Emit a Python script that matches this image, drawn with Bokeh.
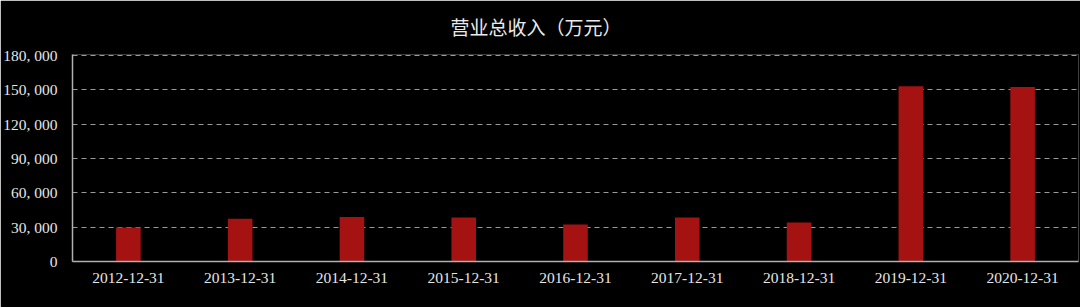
from bokeh.plotting import figure
from bokeh.models import FixedTicker, Title
from bokeh.embed import file_html
from bokeh.resources import INLINE

categories = ["2012-12-31", "2013-12-31", "2014-12-31", "2015-12-31", "2016-12-31",
              "2017-12-31", "2018-12-31", "2019-12-31", "2020-12-31"]
revenue = [29800, 37300, 39000, 38500, 32300, 38500, 34000, 153200, 152600]
y_ticks = [0, 30000, 60000, 90000, 120000, 150000, 180000]
y_tick_labels = ["0", "30, 000", "60, 000", "90, 000", "120, 000", "150, 000", "180, 000"]
title_text = "营业总收入（万元）"

p = figure(x_range=categories, y_range=(0, 181000), width=1080, height=307,
           output_backend="svg", toolbar_location=None,
           min_border_left=70, min_border_right=2, min_border_top=54, min_border_bottom=46,
           background_fill_color="black", border_fill_color="black", outline_line_color=None)
p.x_range.range_padding = 0

p.vbar(x=categories, top=revenue, width=0.22, fill_color="#a51212", line_color=None)

t = Title(text=title_text, text_font="Noto Sans CJK SC", text_font_size="19px",
          text_color="#ebebeb", text_font_style="normal", align="left", offset=378,
          standoff=25, vertical_align="top")
p.title = t

p.yaxis.ticker = FixedTicker(ticks=y_ticks)
p.yaxis.major_label_overrides = {k: v for k, v in zip(y_ticks, y_tick_labels)}
for ax in (p.xaxis, p.yaxis):
    ax.major_label_text_font = "Liberation Serif"
    ax.major_label_text_font_size = "15.5px"
    ax.major_label_text_color = "#e6e6e6"
    ax.axis_line_color = "#b0b0b0"
    ax.axis_line_width = 1.5
    ax.major_tick_line_color = None
    ax.minor_tick_line_color = None
p.yaxis.major_label_standoff = 9
p.xaxis.major_label_standoff = 5

p.xgrid.grid_line_color = None
p.ygrid.grid_line_color = "#9a9a9a"
p.ygrid.grid_line_dash = "5 4"
p.ygrid.grid_line_width = 1

html = file_html(p, INLINE)
html = html.replace("<body>", '<body style="background:#000;margin:0">', 1)
open("out.html", "w").write(html)
